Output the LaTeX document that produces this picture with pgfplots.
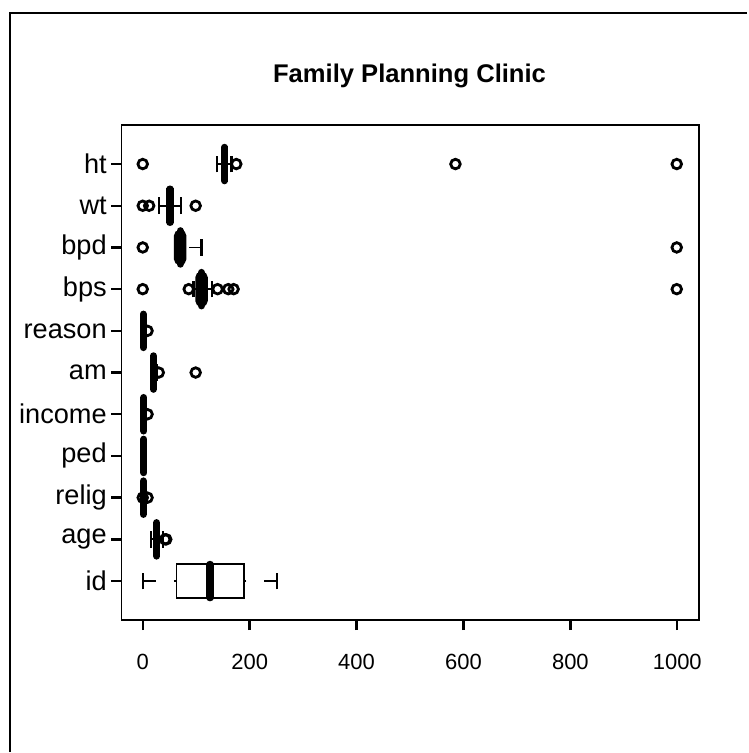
\documentclass[border=0pt]{standalone}
\usepackage{pgfplots}
\pgfplotsset{compat=1.18}
\usepgfplotslibrary{statistics}
\usepackage{fontspec}
\setmainfont{Liberation Sans}
\pgfplotsset{
  boxplot/draw/whisker/.code 2 args={
    \draw[line width=0.9pt, dash pattern=on 6.3pt off 9pt] (boxplot cs:#2) -- (boxplot cs:#1);
    \draw[line width=1.2pt] (boxplot whisker cs:#2,0) -- (boxplot whisker cs:#2,1);
  },
  myplot/.style={
    black, solid, mark=o, mark size=2.4pt,
    mark options={line width=1.4pt, solid},
    boxplot/box extend=0.8,
    boxplot/whisker extend=0.4,
    boxplot/every box/.style={line width=0.9pt},
    boxplot/every median/.style={line width=3.6pt, line cap=round},
  },
  blob/.style={boxplot/every box/.style={line width=0.9pt, fill=black, rounded corners=2.5pt}},
}
\begin{document}
\begin{tikzpicture}[x=1pt,y=1pt]
\path (0,0) rectangle (374,376.5);
\draw[line width=0.9pt] (5,0) -- (5,370) -- (374,370);
\begin{axis}[
  at={(60.75pt,66pt)}, anchor=south west,
  scale only axis, width=289pt, height=248pt,
  xmin=-40, xmax=1040, ymin=0.06, ymax=11.94,
  xtick={0,200,400,600,800,1000},
  ytick={1,2,3,4,5,6,7,8,9,10,11},
  yticklabels={id,age,relig,ped,income,am,reason,bps,bpd,wt,ht},
  tick align=outside, major tick length=5pt,
  xtick pos=bottom, ytick pos=left,
  axis line style={line width=0.85pt},
  every tick/.style={line width=1.2pt, black},
  /pgf/number format/assume math mode=true,
  /pgf/number format/1000 sep={},
  xticklabel style={font=\fontsize{11}{13}\selectfont, yshift=-8.5pt},
  yticklabel style={font=\fontsize{13.6}{15}\selectfont, xshift=1.2pt},
  clip=false,
]
% id
\addplot[myplot, boxplot prepared={lower whisker=1, lower quartile=63, median=126, upper quartile=189, upper whisker=251, draw position=1}] coordinates {};
% age
\addplot[myplot, boxplot prepared={lower whisker=15, lower quartile=22, median=26, upper quartile=30, upper whisker=38, draw position=2}] table[row sep=\\, y index=0] {d\\ 42\\ 44\\};
% relig
\addplot[myplot, boxplot prepared={lower whisker=1, lower quartile=1, median=1, upper quartile=2, upper whisker=2, draw position=3}] table[row sep=\\, y index=0] {d\\ 0\\ 9\\};
% ped
\addplot[myplot, boxplot prepared={lower whisker=0, lower quartile=1, median=2, upper quartile=3, upper whisker=6, draw position=4}] coordinates {};
% income
\addplot[myplot, boxplot prepared={lower whisker=1, lower quartile=1, median=2, upper quartile=3, upper whisker=5, draw position=5}] table[row sep=\\, y index=0] {d\\ 9\\};
% am
\addplot[myplot, boxplot prepared={lower whisker=15, lower quartile=18, median=20, upper quartile=22, upper whisker=27, draw position=6}] table[row sep=\\, y index=0] {d\\ 30\\ 99\\};
% reason
\addplot[myplot, boxplot prepared={lower whisker=1, lower quartile=1, median=1, upper quartile=2, upper whisker=3, draw position=7}] table[row sep=\\, y index=0] {d\\ 9\\};
% bps
\addplot[myplot, blob, boxplot prepared={lower whisker=95, lower quartile=100, median=110, upper quartile=120, upper whisker=130, draw position=8}] table[row sep=\\, y index=0] {d\\ 0\\ 86\\ 140\\ 160\\ 170\\ 999\\};
% bpd
\addplot[myplot, blob, boxplot prepared={lower whisker=60, lower quartile=60, median=70, upper quartile=80, upper whisker=110, draw position=9}] table[row sep=\\, y index=0] {d\\ 0\\ 999\\};
% wt
\addplot[myplot, boxplot prepared={lower whisker=30, lower quartile=45, median=51, upper quartile=56, upper whisker=72, draw position=10}] table[row sep=\\, y index=0] {d\\ 0\\ 12\\ 99\\};
% ht
\addplot[myplot, boxplot prepared={lower whisker=139, lower quartile=150, median=153, upper quartile=158, upper whisker=166, draw position=11}] table[row sep=\\, y index=0] {d\\ 0\\ 175\\ 585\\ 999\\};
\end{axis}
\node[font=\fontsize{12.8}{15}\selectfont\bfseries] at (205,338.5) {Family Planning Clinic};
\end{tikzpicture}
\end{document}
